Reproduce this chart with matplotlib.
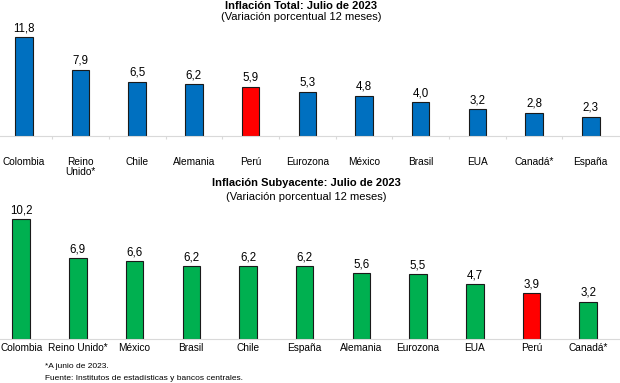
import matplotlib
matplotlib.use("Agg")
import matplotlib.pyplot as plt

# Datos: inflación total (julio 2023)
total_paises = ["Colombia", "Reino\nUnido*", "Chile", "Alemania", "Perú", "Eurozona",
                "México", "Brasil", "EUA", "Canadá*", "España"]
total_valores = [11.8, 7.9, 6.5, 6.2, 5.9, 5.3, 4.8, 4.0, 3.2, 2.8, 2.3]

# Datos: inflación subyacente (julio 2023)
suby_paises = ["Colombia", "Reino Unido*", "México", "Brasil", "Chile", "España",
               "Alemania", "Eurozona", "EUA", "Perú", "Canadá*"]
suby_valores = [10.2, 6.9, 6.6, 6.2, 6.2, 6.2, 5.6, 5.5, 4.7, 3.9, 3.2]

AZUL = "#0070C0"
VERDE = "#00B050"
ROJO = "#FF0000"

plt.rcParams["font.family"] = ["Liberation Sans", "DejaVu Sans"]

fig = plt.figure(figsize=(6.2, 3.83), dpi=100)


def barras(ax, paises, valores, color, xlim, ylim, pad, ticks_sep):
    colores = [ROJO if p == "Perú" else color for p in paises]
    x = range(len(paises))
    ax.bar(x, valores, width=0.31, color=colores, edgecolor="#1a1a1a", linewidth=0.8)
    for xi, v in zip(x, valores):
        ax.annotate(f"{v:.1f}".replace(".", ","), (xi, v), xytext=(0, 2),
                    textcoords="offset points", ha="center", va="bottom", fontsize=8.3)
    ax.set_xlim(*xlim)
    ax.set_ylim(*ylim)
    ax.set_xticks(list(x), paises, fontsize=7.3, linespacing=1.05)
    ax.tick_params(axis="x", length=0, pad=pad)
    if ticks_sep:
        ax.set_xticks([i + 0.5 for i in range(len(paises) - 1)], minor=True)
        ax.tick_params(axis="x", which="minor", length=2.5, color="#D9D9D9", width=0.8)
    ax.set_yticks([])
    for s in ["top", "left", "right"]:
        ax.spines[s].set_visible(False)
    ax.spines["bottom"].set_color("#D9D9D9")
    ax.spines["bottom"].set_linewidth(0.8)
    ax.patch.set_alpha(0)


# Gráfico superior
ax1 = fig.add_axes([0.0, 0.6449, 1.0, 0.2846])
barras(ax1, total_paises, total_valores, AZUL, (-0.42, 10.515), (0, 13), 15, True)

# Gráfico inferior
ax2 = fig.add_axes([0.0, 0.1141, 1.0, 0.339])
barras(ax2, suby_paises, suby_valores, VERDE, (-0.374, 10.561), (0, 11), 2.5, False)

# Títulos
fig.text(301 / 620, 1 - 6 / 383, "Inflación Total: Julio de 2023", ha="center", va="center",
         fontsize=8, fontweight="bold")
fig.text(301 / 620, 1 - 17.5 / 383, "(Variación porcentual 12 meses)", ha="center",
         va="center", fontsize=8)
fig.text(306 / 620, 1 - 183.3 / 383, "Inflación Subyacente: Julio de 2023", ha="center",
         va="center", fontsize=8, fontweight="bold")
fig.text(306 / 620, 1 - 196.7 / 383, "(Variación porcentual 12 meses)", ha="center",
         va="center", fontsize=8)

# Notas
fig.text(45 / 620, 1 - 367 / 383, "*A junio de 2023.", ha="left", va="center", fontsize=6)
fig.text(45 / 620, 1 - 378 / 383, "Fuente: Institutos de estadísticas y bancos centrales.",
         ha="left", va="center", fontsize=6)

fig.savefig("out.png", dpi=100)
